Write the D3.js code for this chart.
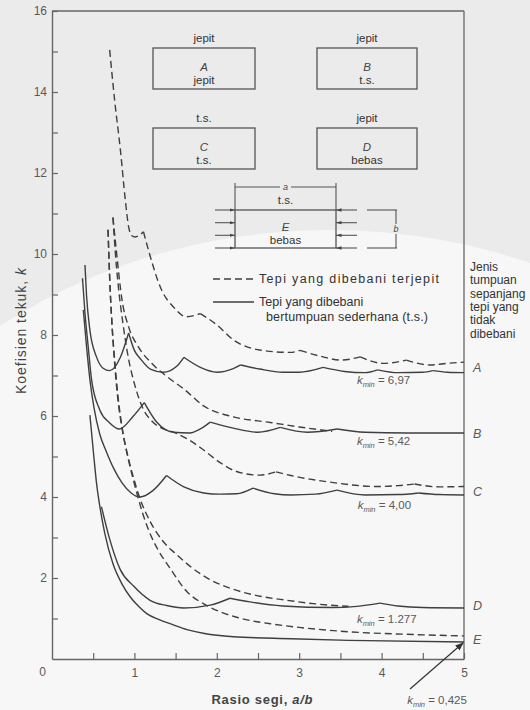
<!DOCTYPE html>
<html><head><meta charset="utf-8">
<script src="https://cdn.jsdelivr.net/npm/d3@7"></script>
<style>
body{margin:0;background:#fff}
svg{display:block}
text{font-family:"Liberation Sans",Arial,Helvetica,sans-serif}
</style>
</head><body>
<svg id="c" width="530" height="710"></svg>
<script>
// ---------------- data ----------------
const categories = ["A", "B", "C", "D", "E"];
const kMinValues = ["6,97", "5,42", "4,00", "1.277", "0,425"];
const xTicks = [0.5, 1, 1.5, 2, 2.5, 3, 3.5, 4, 4.5, 5];
const xTickLabels = ["", "1", "", "2", "", "3", "", "4", "", "5"];
const yTicks = [1, 2, 3, 4, 5, 6, 7, 8, 9, 10, 11, 12, 13, 14, 15, 16];
const yTickLabels = ["", "2", "", "4", "", "6", "", "8", "", "10", "", "12", "", "14", "", "16"];

// solid: loaded edges simply supported (t.s.) ; segments split at cusps
const solidA = [
  [[0.40,9.73],[0.42,8.95],[0.46,8.12],[0.54,7.46],[0.62,7.18],[0.70,7.12],[0.83,7.45],[0.93,8.05]],
  [[0.93,8.05],[1.0,7.62],[1.07,7.42],[1.2,7.15],[1.35,7.08],[1.51,7.22],[1.60,7.45]],
  [[1.60,7.45],[1.80,7.2],[2.0,7.08],[2.2,7.17],[2.29,7.26]],
  [[2.29,7.26],[2.52,7.16],[2.8,7.08],[3.0,7.08],[3.29,7.2]],
  [[3.29,7.2],[3.55,7.1],[3.8,7.07],[3.95,7.14]],
  [[3.95,7.14],[4.2,7.07],[4.5,7.08],[4.62,7.12]],
  [[4.62,7.12],[4.8,7.08],[5.0,7.07]]
];
const solidB = [
  [[0.37,9.4],[0.40,8.55],[0.44,7.7],[0.48,6.9],[0.58,6.15],[0.70,5.83],[0.82,5.68],[0.98,5.98],[1.12,6.33]],
  [[1.12,6.33],[1.27,5.85],[1.47,5.6],[1.67,5.58],[1.80,5.68],[1.92,5.85]],
  [[1.92,5.85],[2.2,5.7],[2.5,5.6],[2.77,5.72]],
  [[2.77,5.72],[3.1,5.6],[3.46,5.68]],
  [[3.46,5.68],[3.8,5.6],[4.3,5.58],[5.0,5.58]]
];
const solidC = [
  [[0.38,8.62],[0.42,7.7],[0.46,6.9],[0.51,6.2],[0.58,5.55],[0.66,5.12],[0.75,4.7],[0.85,4.35],[0.96,4.1],[1.07,4.0],[1.22,4.15],[1.39,4.53]],
  [[1.39,4.53],[1.6,4.25],[1.84,4.1],[2.04,4.07],[2.24,4.08],[2.44,4.22]],
  [[2.44,4.22],[2.7,4.08],[2.9,4.05],[3.2,4.07],[3.46,4.17]],
  [[3.46,4.17],[3.8,4.05],[4.2,4.06],[4.45,4.1]],
  [[4.45,4.1],[4.7,4.06],[5.0,4.05]]
];
const solidD = [
  [[0.60,3.76],[0.70,2.96],[0.83,2.2],[0.99,1.8],[1.19,1.45],[1.39,1.32],[1.6,1.26],[1.92,1.33],[2.16,1.5]],
  [[2.16,1.5],[2.4,1.41],[2.8,1.31],[3.4,1.27],[3.7,1.3],[3.98,1.38]],
  [[3.98,1.38],[4.2,1.31],[4.5,1.27],[5.0,1.26]]
];
const solidE = [
  [[0.46,6.02],[0.50,5.16],[0.54,4.35],[0.59,3.65],[0.64,3.11],[0.74,2.35],[0.85,1.85],[0.95,1.53],[1.05,1.3],[1.15,1.12],[1.3,0.97],[1.45,0.86],[1.65,0.72],[1.85,0.63],[2.2,0.55],[2.9,0.5],[3.6,0.46],[5.0,0.42]]
];

// dashed: loaded edges clamped (terjepit)
const dashedA = [
  [[0.70,15.04],[0.76,13.8],[0.83,12.57],[0.89,11.33],[0.93,10.67],[0.97,10.45],[1.01,10.42],[1.11,10.55]],
  [[1.11,10.55],[1.17,10.1],[1.33,9.11],[1.47,8.7],[1.63,8.45],[1.80,8.53]],
  [[1.80,8.53],[2.0,8.25],[2.2,7.88],[2.52,7.63],[2.89,7.57],[3.01,7.62]],
  [[3.01,7.62],[3.29,7.46],[3.5,7.38],[3.74,7.46]],
  [[3.74,7.46],[4.02,7.3],[4.3,7.38]],
  [[4.3,7.38],[4.59,7.26],[4.8,7.3],[5.0,7.33]]
];
const dashedB = [
  [[0.74,10.9],[0.78,10.1],[0.85,8.86],[0.93,8.2],[1.05,7.7],[1.21,7.3],[1.41,6.95],[1.61,6.65],[1.84,6.25],[2.2,5.98],[2.65,5.84],[3.0,5.73],[3.4,5.62]]
];
const dashedC = [
  [[0.74,10.9],[0.77,10.0],[0.80,9.3],[0.86,8.3],[0.93,7.4],[1.0,6.8],[1.1,6.2],[1.2,5.9],[1.33,5.7],[1.45,5.62],[1.63,5.45],[1.84,5.16],[2.04,4.85],[2.24,4.63],[2.52,4.54],[2.72,4.62]],
  [[2.72,4.62],[2.9,4.53],[3.33,4.38],[3.94,4.26],[4.2,4.28],[4.4,4.32]],
  [[4.4,4.32],[4.7,4.25],[5.0,4.26]]
];
const dashedD = [
  [[0.68,10.6],[0.70,9.4],[0.73,8.2],[0.76,7.3],[0.80,6.4],[0.85,5.7],[0.91,5.1],[1.0,4.4],[1.07,3.95],[1.19,3.4],[1.35,2.9],[1.5,2.6],[1.7,2.25],[1.9,1.98],[2.2,1.72],[2.5,1.56],[2.85,1.45],[3.2,1.36],[3.6,1.3]]
];
const dashedE = [
  [[0.68,10.6],[0.70,9.4],[0.73,8.2],[0.76,7.4],[0.80,6.5],[0.86,5.6],[0.93,4.9],[0.99,4.4],[1.1,3.6],[1.2,3.05],[1.3,2.65],[1.43,2.25],[1.63,1.68],[1.88,1.32],[2.24,1.03],[2.65,0.87],[3.0,0.78],[3.62,0.67],[4.3,0.61],[5.0,0.57]]
];

const solidSeries = [solidA, solidB, solidC, solidD, solidE];
const dashedSeries = [dashedA, dashedB, dashedC, dashedD, dashedE];
const endValues = [7.19, 5.55, 4.13, 1.3, 0.47];   // where the right-hand letters sit
const kMinAnchor = [[3.70, 6.8], [3.70, 5.28], [3.71, 3.7], [3.70, 0.9], [4.31, -1.1]];

// ---------------- drawing ----------------
const svg = d3.select("#c");
const W = 530, H = 710;
const ink = "#3f3f3f", grey = "#5a5a5a";

// background (scanned page tone)
svg.append("rect").attr("width", W).attr("height", H).attr("fill", "#ebebeb");
svg.append("ellipse").attr("cx", 330).attr("cy", 730).attr("rx", 560).attr("ry", 500).attr("fill", "#f7f7f7");

const x = d3.scaleLinear().domain([0, 5]).range([52, 464]);
const y = d3.scaleLinear().domain([0, 16]).range([659, 11]);

// frame
const frame = svg.append("g").attr("stroke", "#666").attr("stroke-width", 1.3).attr("fill", "none");
frame.append("line").attr("x1", x(0)).attr("x2", x(5)).attr("y1", y(16)).attr("y2", y(16));
frame.append("line").attr("x1", x(5)).attr("x2", x(5)).attr("y1", y(16)).attr("y2", y(0));

// axes
const yAxis = d3.axisLeft(y).tickValues(yTicks).tickSizeInner(-6).tickSizeOuter(0).tickPadding(5)
  .tickFormat((d, i) => yTickLabels[i]);
const gy = svg.append("g").attr("transform", `translate(${x(0)},0)`).call(yAxis);
const xAxis = d3.axisBottom(x).tickValues(xTicks).tickSizeInner(-6).tickSizeOuter(0).tickPadding(9)
  .tickFormat((d, i) => xTickLabels[i]);
const gx = svg.append("g").attr("transform", `translate(0,${y(0)})`).call(xAxis);
[gx, gy].forEach(g => {
  g.select(".domain").attr("stroke", "#666").attr("stroke-width", 1.4);
  g.selectAll(".tick line").attr("stroke", "#666").attr("stroke-width", 1.2);
  g.selectAll(".tick text").attr("fill", grey).attr("font-size", 12)
    .attr("font-family", '"Liberation Sans",Arial,sans-serif');
});
svg.append("text").attr("x", 46).attr("y", 676).attr("text-anchor", "end")
  .attr("font-size", 12).attr("fill", grey).text("0");

// axis titles
const yt = svg.append("text").attr("transform", "translate(26,331) rotate(-90)")
  .attr("text-anchor", "middle").attr("font-size", 14).attr("fill", "#444")
  .attr("textLength", 126).attr("lengthAdjust", "spacing");
yt.append("tspan").text("Koefisien tekuk, ");
yt.append("tspan").attr("font-style", "italic").text("k");
const xt = svg.append("text").attr("x", 262).attr("y", 704).attr("text-anchor", "middle")
  .attr("font-size", 13).attr("font-weight", "bold").attr("fill", "#444")
  .attr("textLength", 101).attr("lengthAdjust", "spacing");
xt.append("tspan").text("Rasio segi, ");
xt.append("tspan").attr("font-style", "italic").text("a/b");

// curves
const line = d3.line().x(d => x(d[0])).y(d => y(d[1])).curve(d3.curveMonotoneX);
const curves = svg.append("g").attr("fill", "none").attr("stroke", ink).attr("stroke-width", 1.4)
  .attr("stroke-linejoin", "round");
solidSeries.forEach(series => series.forEach(seg => curves.append("path").attr("d", line(seg))));
dashedSeries.forEach(series => series.forEach(seg =>
  curves.append("path").attr("d", line(seg)).attr("stroke-dasharray", "7,4")));

// right-hand letters
categories.forEach((c, i) => {
  svg.append("text").attr("x", x(5) + 9).attr("y", y(endValues[i]) + 4)
    .attr("font-size", 12.5).attr("font-style", "italic").attr("fill", grey).text(c);
});

// k_min labels
categories.forEach((c, i) => {
  const t = svg.append("text").attr("x", x(kMinAnchor[i][0])).attr("y", y(kMinAnchor[i][1]))
    .attr("font-size", 11.5).attr("fill", grey);
  t.append("tspan").attr("font-style", "italic").text("k");
  t.append("tspan").attr("font-size", 7.5).attr("dy", 3).attr("font-style", "italic").text("min");
  t.append("tspan").attr("dy", -3).text(" = " + kMinValues[i]);
});
// arrow for E
svg.append("defs").append("marker").attr("id", "ah").attr("viewBox", "0 0 10 10")
  .attr("refX", 9).attr("refY", 5).attr("markerWidth", 7).attr("markerHeight", 7).attr("orient", "auto")
  .append("path").attr("d", "M0,1 L10,5 L0,9 Z").attr("fill", "#333");
svg.append("line").attr("x1", 410).attr("y1", 689).attr("x2", x(5) - 1).attr("y2", y(0.42) + 1)
  .attr("stroke", "#333").attr("stroke-width", 1.2).attr("marker-end", "url(#ah)");

// right-hand note
const note = ["Jenis", "tumpuan", "sepanjang", "tepi yang", "tidak", "dibebani"];
note.forEach((s, i) => svg.append("text").attr("x", 470).attr("y", 271 + i * 13.3)
  .attr("font-size", 12).attr("fill", "#333").text(s));

// legend
svg.append("line").attr("x1", 213).attr("x2", 254).attr("y1", 279).attr("y2", 279)
  .attr("stroke", ink).attr("stroke-width", 1.3).attr("stroke-dasharray", "7,4");
svg.append("line").attr("x1", 213).attr("x2", 254).attr("y1", 302).attr("y2", 302)
  .attr("stroke", ink).attr("stroke-width", 1.3);
svg.append("text").attr("x", 259).attr("y", 283).attr("font-size", 12.5).attr("fill", "#333")
  .attr("textLength", 180).attr("lengthAdjust", "spacing")
  .text("Tepi yang dibebani terjepit");
svg.append("text").attr("x", 259).attr("y", 306).attr("font-size", 12.5).attr("fill", "#333")
  .text("Tepi yang dibebani");
svg.append("text").attr("x", 266).attr("y", 321).attr("font-size", 12.5).attr("fill", "#333")
  .attr("textLength", 162).attr("lengthAdjust", "spacing")
  .text("bertumpuan sederhana (t.s.)");

// inset boxes
const ins = svg.append("g");
function box(x0, y0, w, h, top, letter, bottom) {
  ins.append("rect").attr("x", x0).attr("y", y0).attr("width", w).attr("height", h)
    .attr("fill", "none").attr("stroke", "#555").attr("stroke-width", 1.3);
  const cx = x0 + w / 2;
  if (top) ins.append("text").attr("x", cx).attr("y", y0 - 6).attr("text-anchor", "middle")
    .attr("font-size", 11.5).attr("fill", "#333").text(top);
  ins.append("text").attr("x", cx).attr("y", y0 + h / 2 + 2).attr("text-anchor", "middle")
    .attr("font-size", 11.5).attr("font-style", "italic").attr("fill", "#444").text(letter);
  ins.append("text").attr("x", cx).attr("y", y0 + h / 2 + 15).attr("text-anchor", "middle")
    .attr("font-size", 11.5).attr("fill", "#333").text(bottom);
}
box(153, 48, 102, 41, "jepit", "A", "jepit");
box(317, 48, 100, 41, "jepit", "B", "t.s.");
box(153, 128, 102, 41, "t.s.", "C", "t.s.");
box(317, 128, 100, 41, "jepit", "D", "bebas");
box(235, 210, 101, 38, null, "E", "bebas");
ins.append("text").attr("x", 285.5).attr("y", 204).attr("text-anchor", "middle")
  .attr("font-size", 11.5).attr("fill", "#333").text("t.s.");
// dimension a
const dim = ins.append("g").attr("stroke", "#555").attr("stroke-width", 1.1);
dim.append("line").attr("x1", 235).attr("x2", 235).attr("y1", 183).attr("y2", 210);
dim.append("line").attr("x1", 336).attr("x2", 336).attr("y1", 183).attr("y2", 210);
dim.append("line").attr("x1", 235).attr("x2", 280).attr("y1", 187).attr("y2", 187);
dim.append("line").attr("x1", 291).attr("x2", 336).attr("y1", 187).attr("y2", 187);
ins.append("text").attr("x", 285.5).attr("y", 190).attr("text-anchor", "middle")
  .attr("font-size", 9).attr("font-style", "italic").attr("fill", "#444").text("a");
// load arrows
ins.append("marker").attr("id", "sa").attr("viewBox", "0 0 10 10").attr("refX", 10).attr("refY", 5)
  .attr("markerWidth", 5).attr("markerHeight", 5).attr("orient", "auto")
  .append("path").attr("d", "M0,2 L10,5 L0,8 Z").attr("fill", "#444");
[210, 222.7, 235.3, 248].forEach(yy => {
  dim.append("line").attr("x1", 215).attr("x2", 235).attr("y1", yy).attr("y2", yy).attr("marker-end", "url(#sa)");
  dim.append("line").attr("x1", 357).attr("x2", 336).attr("y1", yy).attr("y2", yy).attr("marker-end", "url(#sa)");
});
// dimension b
dim.append("line").attr("x1", 367).attr("x2", 397).attr("y1", 210).attr("y2", 210);
dim.append("line").attr("x1", 367).attr("x2", 397).attr("y1", 248).attr("y2", 248);
dim.append("line").attr("x1", 396).attr("x2", 396).attr("y1", 210).attr("y2", 224);
dim.append("line").attr("x1", 396).attr("x2", 396).attr("y1", 234).attr("y2", 248);
ins.append("text").attr("x", 396).attr("y", 232).attr("text-anchor", "middle")
  .attr("font-size", 9).attr("font-style", "italic").attr("fill", "#444").text("b");
</script>
</body></html>
